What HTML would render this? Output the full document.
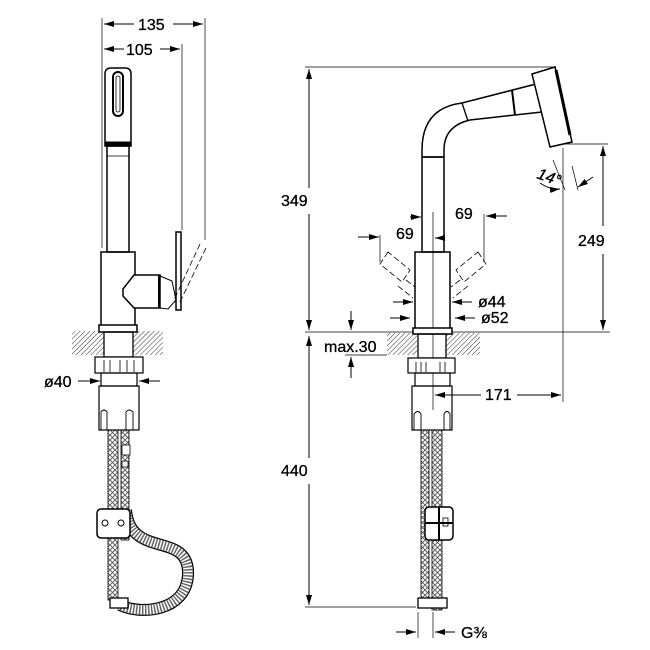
<!DOCTYPE html>
<html><head><meta charset="utf-8"><style>
html,body{margin:0;padding:0;background:#fff}
svg{display:block}
text{font-family:"Liberation Sans",sans-serif;font-size:16px;fill:#000;stroke:#000;stroke-width:0.3}
</style></head><body>
<svg width="650" height="650" viewBox="0 0 650 650" xmlns="http://www.w3.org/2000/svg">
<defs>
<pattern id="h" width="3.5" height="3.5" patternUnits="userSpaceOnUse" patternTransform="rotate(45)"><line x1="0" y1="0" x2="0" y2="3.5" stroke="#333" stroke-width="1"/></pattern>
<pattern id="b" width="5" height="5" patternUnits="userSpaceOnUse"><path d="M0 0L5 5M5 0L0 5" stroke="#555" stroke-width="0.9"/></pattern>
<marker id="a" viewBox="0 0 10 6" refX="10" refY="3" markerWidth="10" markerHeight="6" orient="auto-start-reverse" markerUnits="userSpaceOnUse"><path d="M0 0L10 3L0 6z" fill="#000"/></marker>
</defs>
<g stroke="#000" fill="none" stroke-width="1">
<!-- LEFT VIEW dims -->
<line x1="102" y1="18" x2="102" y2="248" stroke-width="0.7"/>
<line x1="205" y1="18" x2="205" y2="240" stroke-width="0.7"/>
<line x1="182" y1="44" x2="182" y2="230" stroke-width="0.7"/>
<line x1="104" y1="24" x2="134" y2="24" marker-start="url(#a)"/>
<line x1="173" y1="24" x2="203" y2="24" marker-end="url(#a)"/>
<line x1="104" y1="49" x2="124" y2="49" marker-start="url(#a)"/>
<line x1="160" y1="49" x2="180" y2="49" marker-end="url(#a)"/>
<!-- spray head -->
<path d="M105 146V74Q105 68 111 68H125Q131 68 131 74V146Z" stroke-width="1.5"/>
<rect x="113" y="72" width="10" height="44" rx="5" stroke-width="2"/>
<rect x="116" y="76" width="4" height="36" rx="2" stroke-width="0.8"/>
<rect x="105" y="142" width="26" height="4" fill="#000"/>
<rect x="107" y="146" width="22" height="106" stroke-width="1.5"/>
<line x1="107" y1="156" x2="129" y2="156" stroke-width="0.8"/>
<rect x="101" y="252" width="34" height="77" stroke-width="1.5"/>
<path d="M134 275L123 289L123 296L134 308H160V275Z" fill="#fff" stroke-width="1.5"/>
<line x1="159" y1="275" x2="159" y2="308" stroke-width="2"/>
<path d="M160 276L172 281L176 300L168 309L160 308" stroke-width="1"/>
<rect x="176" y="232" width="5" height="78" stroke-width="1.5"/>
<path d="M200 244L174 300M206 248L179 304" stroke-dasharray="6,3" stroke-width="0.8"/>
<!-- countertop left -->
<rect x="72" y="331" width="32" height="24" fill="url(#h)" stroke="none"/>
<rect x="133" y="331" width="30" height="24" fill="url(#h)" stroke="none"/>
<rect x="99" y="325" width="38" height="7" fill="#fff" stroke-width="1.5"/>
<rect x="104" y="332" width="29" height="25" stroke-width="1.3"/>
<rect x="95" y="357" width="48" height="16" fill="#fff" stroke-width="1.2"/>
<path d="M104 360V372M110 360V372M120 360V372M127 360V372M134 360V372" stroke-width="0.8"/>
<rect x="101" y="373" width="36" height="13" stroke-width="1.2"/>
<line x1="78" y1="381" x2="100" y2="381" marker-end="url(#a)"/>
<line x1="160" y1="381" x2="139" y2="381" marker-end="url(#a)"/>
<rect x="99" y="386" width="40" height="44" stroke-width="1.2"/>
<path d="M101 430V412Q104 408 107 412V430M126 430V412Q129 408 133 412V430" stroke-width="0.9"/>
<!-- hoses left -->
<rect x="108" y="430" width="10" height="170" fill="url(#b)" stroke-width="0.8"/>
<rect x="121" y="430" width="8" height="110" fill="url(#b)" stroke-width="0.8"/>
<rect x="122" y="445" width="8" height="10" stroke-width="0.8" fill="#fff"/>
<rect x="122" y="461" width="6" height="6" stroke-width="0.8" fill="#fff"/>
<path d="M126 510C130 560 190 530 188 575C186 612 140 615 120 605" stroke="#000" stroke-width="12"/>
<path d="M126 510C130 560 190 530 188 575C186 612 140 615 120 605" stroke="#fff" stroke-width="9.5"/>
<path d="M126 510C130 560 190 530 188 575C186 612 140 615 120 605" stroke="#666" stroke-width="9.5" stroke-dasharray="1.5,1.5"/>
<rect x="97" y="509" width="33" height="29" rx="4" fill="#fff" stroke-width="1.5"/>
<circle cx="105" cy="523" r="3"/><circle cx="121" cy="523" r="3"/>
<rect x="110" y="598" width="18" height="10" fill="#fff" stroke-width="1.3"/>
<!-- RIGHT VIEW dims -->
<line x1="305" y1="67" x2="556" y2="67" stroke-width="0.7"/>
<line x1="305" y1="332" x2="610" y2="332" stroke-width="0.7"/>
<line x1="305" y1="607" x2="416" y2="607" stroke-width="0.7"/>
<line x1="309" y1="188" x2="309" y2="69" marker-end="url(#a)"/>
<line x1="309" y1="214" x2="309" y2="330" marker-end="url(#a)"/>
<line x1="309" y1="458" x2="309" y2="336" marker-end="url(#a)"/>
<line x1="309" y1="484" x2="309" y2="605" marker-end="url(#a)"/>
<line x1="560" y1="144" x2="608" y2="144" stroke-width="0.7"/>
<line x1="603" y1="226" x2="603" y2="146" marker-end="url(#a)"/>
<line x1="603" y1="254" x2="603" y2="330" marker-end="url(#a)"/>
<line x1="563" y1="148" x2="563" y2="402" stroke-width="0.7"/>
<line x1="481" y1="395" x2="435" y2="395" marker-end="url(#a)"/>
<line x1="517" y1="395" x2="561" y2="395" marker-end="url(#a)"/>
<!-- faucet right -->
<path d="M422 157V150Q422 108 462 103L540 83" stroke-width="1.5"/>
<path d="M444 157V150Q444 126 470 120L542 112" stroke-width="1.5"/>
<line x1="422" y1="157" x2="444" y2="157" stroke-width="1.5"/>
<line x1="462" y1="103" x2="468" y2="121" stroke-width="1.3"/>
<line x1="512" y1="90" x2="515" y2="115" stroke-width="2"/>
<path d="M535 82Q548 92 543 110" stroke-width="1.5"/>
<path d="M532 74L555 67L572 142L550 147Z" fill="#fff" stroke-width="1.5"/>
<path d="M556 70L570 135" stroke-width="3"/>
<rect x="422" y="157" width="22" height="95" stroke-width="1.5"/>
<rect x="415" y="252" width="35" height="77" stroke-width="1.5"/>
<line x1="433" y1="212" x2="433" y2="410" stroke-width="0.7"/>
<line x1="553" y1="160" x2="565" y2="190" stroke-width="0.7"/>
<line x1="572" y1="166" x2="578" y2="190" stroke-width="0.7"/>
<line x1="593" y1="177" x2="578" y2="187" marker-end="url(#a)"/>
<path d="M540 183Q550 190 560 189" marker-end="url(#a)"/>
<!-- 69 dims -->
<line x1="410" y1="217" x2="421" y2="217" marker-end="url(#a)"/>
<line x1="445" y1="238" x2="435" y2="238" marker-end="url(#a)"/>
<line x1="358" y1="237" x2="379" y2="237" marker-end="url(#a)"/>
<line x1="380" y1="235" x2="380" y2="262" stroke-width="0.7"/>
<line x1="507" y1="216" x2="486" y2="216" marker-end="url(#a)"/>
<line x1="484" y1="214" x2="484" y2="262" stroke-width="0.7"/>
<g stroke-dasharray="6,3" stroke-width="0.8">
<path d="M388 252L380 264L402 282L410 270Z"/>
<path d="M478 252L486 264L464 282L456 270Z"/>
<path d="M406 280L415 287M398 286L413 298M460 280L451 287M468 286L453 298"/>
</g>
<!-- Ø44 Ø52 -->
<line x1="393" y1="302" x2="413" y2="302" marker-end="url(#a)"/>
<line x1="472" y1="302" x2="452" y2="302" marker-end="url(#a)"/>
<line x1="390" y1="318" x2="410" y2="318" marker-end="url(#a)"/>
<line x1="475" y1="318" x2="455" y2="318" marker-end="url(#a)"/>
<!-- max.30 -->
<line x1="351" y1="311" x2="351" y2="330" marker-end="url(#a)"/>
<line x1="351" y1="378" x2="351" y2="357" marker-end="url(#a)"/>
<line x1="345" y1="355" x2="387" y2="355" stroke-width="0.7"/>
<!-- countertop right -->
<rect x="387" y="333" width="30" height="22" fill="url(#h)" stroke="none"/>
<rect x="446" y="333" width="34" height="22" fill="url(#h)" stroke="none"/>
<rect x="413" y="328" width="39" height="6" fill="#fff" stroke-width="1.5"/>
<rect x="418" y="334" width="28" height="24" stroke-width="1.3"/>
<rect x="408" y="358" width="47" height="15" fill="#fff" stroke-width="1.2"/>
<path d="M416 362V372M421 362V372M426 362V372M440 362V372M445 362V372" stroke-width="0.8"/>
<rect x="415" y="373" width="35" height="13" stroke-width="1.2"/>
<rect x="412" y="386" width="40" height="44" stroke-width="1.2"/>
<path d="M414 430V414Q418 409 421 414V430M444 430V414Q447 409 450 414V430" stroke-width="0.9"/>
<rect x="421" y="430" width="8" height="168" fill="url(#b)" stroke-width="0.8"/>
<rect x="432" y="430" width="10" height="180" fill="url(#b)" stroke-width="0.8"/>
<rect x="425" y="507" width="28" height="33" rx="4" fill="#fff" stroke-width="1.5"/>
<line x1="439" y1="507" x2="439" y2="540" stroke-width="2"/>
<line x1="425" y1="523" x2="453" y2="523" stroke-width="2"/>
<rect x="443" y="518" width="5" height="8" stroke-width="0.8"/>
<rect x="418" y="598" width="29" height="10" fill="#fff" stroke-width="1.3"/>
<line x1="418" y1="612" x2="418" y2="638" stroke-width="0.7"/>
<line x1="433" y1="612" x2="433" y2="638" stroke-width="0.7"/>
<line x1="396" y1="632" x2="416" y2="632" marker-end="url(#a)"/>
<line x1="455" y1="632" x2="435" y2="632" marker-end="url(#a)"/>
</g>
<g>
<text x="138" y="30">135</text>
<text x="126" y="55">105</text>
<text x="44" y="387">ø40</text>
<text x="281" y="206">349</text>
<text x="281" y="476">440</text>
<text x="578" y="246">249</text>
<text x="485" y="400">171</text>
<text x="396" y="239">69</text>
<text x="455" y="219">69</text>
<text x="478" y="307">ø44</text>
<text x="481" y="323">ø52</text>
<text x="324" y="352">max.30</text>
<text x="461" y="638">G⅜</text>
<text x="0" y="0" transform="translate(536,178) rotate(20)" font-size="13" font-style="italic">14°</text>
</g>
</svg>
</body></html>
